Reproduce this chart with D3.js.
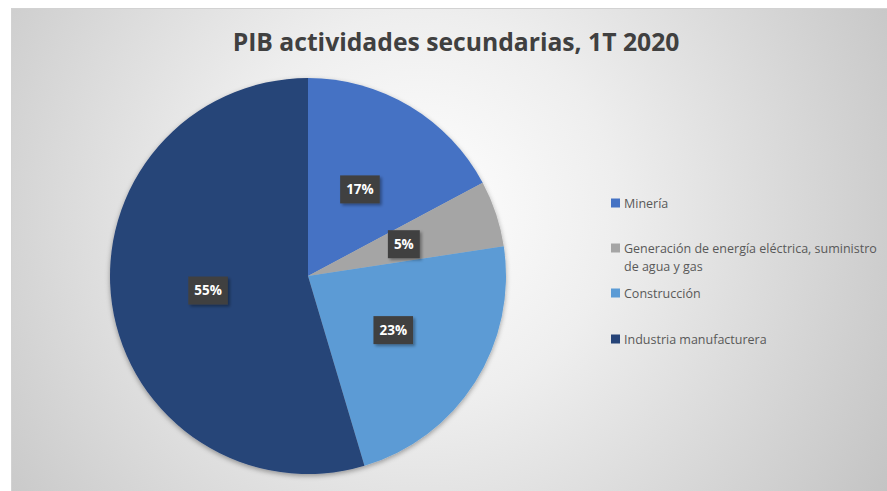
<!DOCTYPE html>
<html lang="es">
<head>
<meta charset="UTF-8">
<script src="https://d3js.org/d3.v7.min.js"></script>
<style>
  body { margin: 0; background: #fff; }
  svg { display: block; font-family: "Open Sans", "Noto Sans", sans-serif; }
</style>
</head>
<body>
<div id="chart"></div>
<script>
// Data
const categories = ["Minería", "Generación de energía eléctrica, suministro de agua y gas", "Construcción", "Industria manufacturera"];
const legendLines = [["Minería"], ["Generación de energía eléctrica, suministro", "de agua y gas"], ["Construcción"], ["Industria manufacturera"]];
const values = [17.2, 5.4, 22.8, 54.6];
const colors = ["#4472C4", "#A5A5A5", "#5B9BD5", "#264478"];

const width = 887, height = 491;
const cx = 308, cy = 276, radius = 198;

const svg = d3.select("#chart").append("svg")
  .attr("width", width)
  .attr("height", height);

const defs = svg.append("defs");

// Background gradient
const grad = defs.append("radialGradient")
  .attr("id", "bg")
  .attr("gradientUnits", "userSpaceOnUse")
  .attr("cx", 420).attr("cy", 210).attr("r", 560);
grad.append("stop").attr("offset", "0%").attr("stop-color", "#ffffff");
grad.append("stop").attr("offset", "35%").attr("stop-color", "#eeeeee");
grad.append("stop").attr("offset", "100%").attr("stop-color", "#c2c2c2");

const shadow = defs.append("filter").attr("id", "shadow")
  .attr("x", "-20%").attr("y", "-20%").attr("width", "140%").attr("height", "140%");
shadow.append("feDropShadow").attr("dx", 0).attr("dy", 2).attr("stdDeviation", 2.5)
  .attr("flood-color", "#000").attr("flood-opacity", 0.35);

const boxShadow = defs.append("filter").attr("id", "boxShadow")
  .attr("x", "-30%").attr("y", "-30%").attr("width", "160%").attr("height", "160%");
boxShadow.append("feDropShadow").attr("dx", 2).attr("dy", 2).attr("stdDeviation", 1.5)
  .attr("flood-color", "#000").attr("flood-opacity", 0.35);

svg.append("rect")
  .attr("x", 11.5).attr("y", 8.5)
  .attr("width", width).attr("height", height)
  .attr("fill", "url(#bg)")
  .attr("stroke", "#d2d2d2");

// Title
const title = svg.append("text")
  .attr("x", 456).attr("y", 51)
  .attr("text-anchor", "middle")
  .attr("font-weight", 700)
  .attr("font-size", 24)
  .attr("fill", "#404040")
  .text("PIB actividades secundarias, 1T 2020");
const tw = title.node().getComputedTextLength();
title.attr("font-size", 24 * 447 / tw);

// Pie
const pie = d3.pie().sort(null).value(d => d)
  .startAngle(0).endAngle(2 * Math.PI);
const arcs = pie(values);
const arc = d3.arc().innerRadius(0).outerRadius(radius);
const labelArc = d3.arc().innerRadius(radius * 0.51).outerRadius(radius * 0.51);

const g = svg.append("g").attr("transform", `translate(${cx},${cy})`);

g.append("g").attr("filter", "url(#shadow)")
  .selectAll("path")
  .data(arcs)
  .join("path")
  .attr("d", arc)
  .attr("fill", (d, i) => colors[i]);

const fmt = d3.format(".0f");
const labels = g.selectAll("g.label")
  .data(arcs)
  .join("g")
  .attr("class", "label")
  .attr("transform", d => `translate(${labelArc.centroid(d)})`);

labels.each(function (d) {
  const lg = d3.select(this);
  const rect = lg.append("rect").attr("fill", "#404040").attr("filter", "url(#boxShadow)");
  const t = lg.append("text")
    .attr("text-anchor", "middle")
    .attr("dy", "0.36em")
    .attr("fill", "#ffffff")
    .attr("font-weight", 700)
    .attr("font-size", 13.5)
    .text(fmt(d.value) + "%");
  const w = t.node().getComputedTextLength() + 12;
  rect.attr("x", -w / 2).attr("y", -14).attr("width", w).attr("height", 28);
});

// Legend
const legendY = [203, 248, 293, 339];
const legend = svg.append("g").attr("transform", "translate(611,0)");
const items = legend.selectAll("g")
  .data(categories)
  .join("g")
  .attr("transform", (d, i) => `translate(0,${legendY[i]})`);

items.append("rect")
  .attr("x", 0).attr("y", -4.5)
  .attr("width", 9).attr("height", 9)
  .attr("fill", (d, i) => colors[i]);

items.append("text")
  .attr("fill", "#595959")
  .attr("font-size", 12.5)
  .each(function (d, i) {
    const t = d3.select(this);
    legendLines[i].forEach((line, j) => {
      t.append("tspan")
        .attr("x", 13)
        .attr("y", j * 18)
        .attr("dy", "0.36em")
        .text(line);
    });
  });
</script>
</body>
</html>
